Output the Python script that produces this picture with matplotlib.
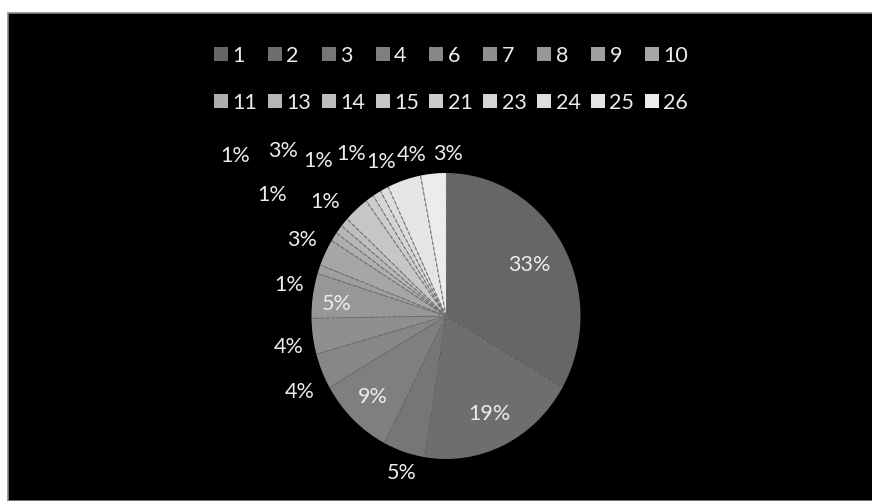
import matplotlib.pyplot as plt
import numpy as np
from matplotlib.patches import Patch, Rectangle

plt.rcParams['font.family'] = ['Lato', 'DejaVu Sans']

groups = ['1', '2', '3', '4', '6', '7', '8', '9', '10',
          '11', '13', '14', '15', '21', '23', '24', '25', '26']
shares = [33, 19, 5, 9, 4, 4, 5, 1, 3, 1, 1, 1, 3, 1, 1, 1, 4, 3]

# where each percentage sits: distance from centre (in pie radii)
# and a small turn (degrees) away from the slice middle
label_r = [0.72, 0.75, 1.14, 0.78, 1.21, 1.19, 0.82, 1.185, 1.20,
           1.55, 1.21, 1.93, 1.68, 1.445, 1.34, 1.185, 1.16, 1.14]
label_turn = [0.4, 0, 1.3, -0.5, 3, 2, 1.8, 8.2, -0.2,
              0.1, -4.6, 5.3, 4.5, 6.5, 0.8, -3.4, -5.4, -6.1]

grays = np.linspace(0.37, 0.92, len(groups)) ** 0.92
colors = [(g, g, g) for g in grays]
txt = '#ececec'

fig = plt.figure(figsize=(8.72, 5.02), dpi=100, facecolor='white')
fig.patches.append(Rectangle((8 / 872, 0), 1, (502 - 14) / 502,
                             transform=fig.transFigure, facecolor='black',
                             edgecolor='#8a8a8a', linewidth=1.2, zorder=-10))

ax = fig.add_axes([311.5 / 872, 42 / 502, 269 / 872, 286 / 502])
wedges, _ = ax.pie(shares, colors=colors, startangle=90, counterclock=False,
                   radius=1, wedgeprops=dict(linewidth=0))
ax.set_aspect('auto')
ax.set_xlim(-1, 1)
ax.set_ylim(-1, 1)
ax.axis('off')

# dashed slice borders
for w in wedges:
    t = np.deg2rad(w.theta1)
    ax.plot([0, np.cos(t)], [0, np.sin(t)], color='#707070', lw=0.8,
            ls=(0, (3, 2)))

total = sum(shares)
for w, v, r, turn in zip(wedges, shares, label_r, label_turn):
    mid = np.deg2rad((w.theta1 + w.theta2) / 2 + turn)
    ax.text(r * np.cos(mid), r * np.sin(mid), f'{v / total * 100:.0f}%',
            ha='center', va='center', color=txt, fontsize=15.5, clip_on=False)

handles = [Patch(facecolor=c, edgecolor='none') for c in colors]
# legend fills column by column, so interleave the two rows
order = [i for pair in zip(range(9), range(9, 18)) for i in pair]
fig.legend([handles[i] for i in order], [groups[i] for i in order],
           ncol=9, loc='upper center', bbox_to_anchor=(451 / 872, 1 - 27 / 502),
           frameon=False, fontsize=15.5, labelcolor=txt,
           handlelength=0.65, handleheight=0.65, handletextpad=0.2,
           columnspacing=0.5, labelspacing=1.25)

fig.savefig('out.png', dpi=100, facecolor='white')
